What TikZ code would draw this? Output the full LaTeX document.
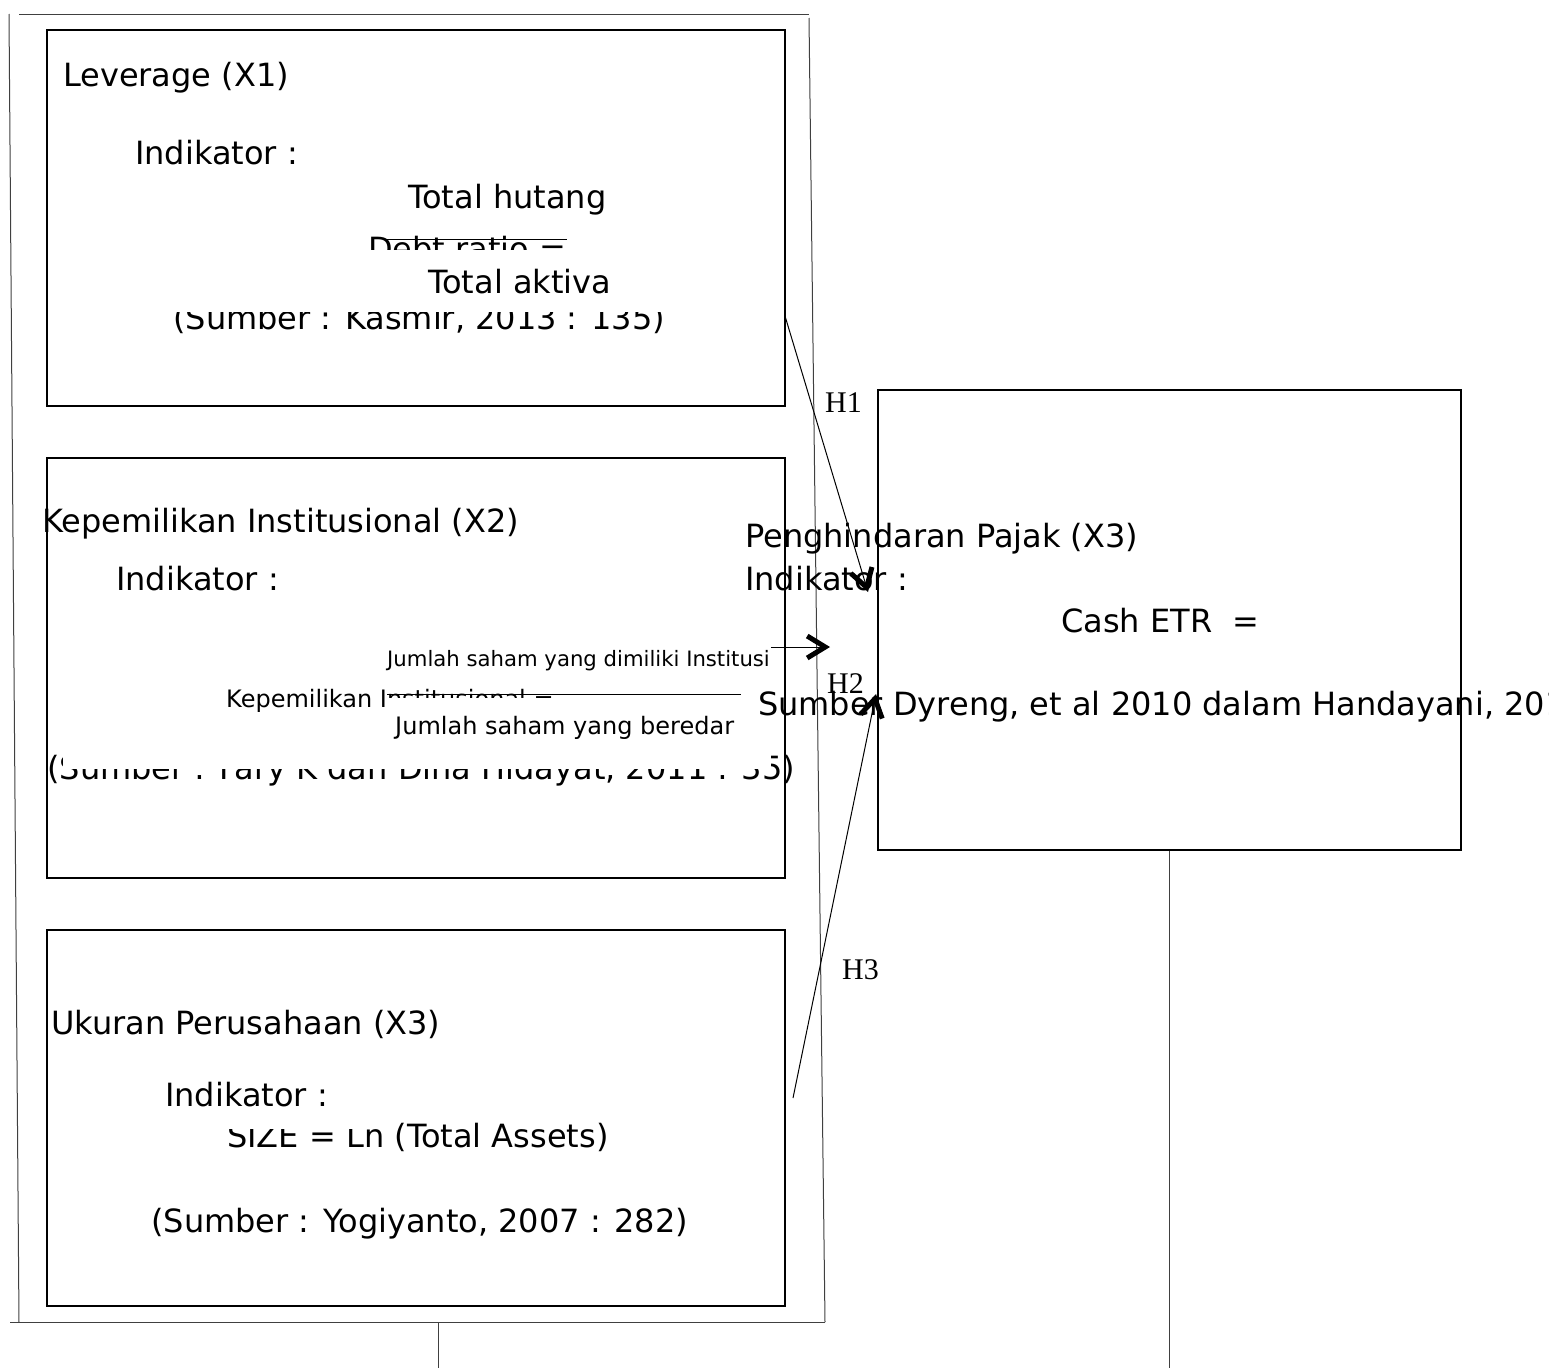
\documentclass[tikz,border=0pt]{standalone}
\usepackage{fontspec}
\setmainfont{DejaVu Sans}
\newfontfamily\hypfont{Liberation Serif}
\usetikzlibrary{arrows.meta}
\tikzset{
  box/.style={draw, line width=1.2pt, minimum width=738pt, inner sep=0pt},
  txt/.style={anchor=base west, inner sep=0pt, font=\fontsize{32}{38}\selectfont},
  midtxt/.style={anchor=base west, inner sep=0pt, font=\fontsize{24}{29}\selectfont},
  smalltxt/.style={anchor=base west, inner sep=0pt, font=\fontsize{21.2}{25}\selectfont},
  hyp/.style={anchor=base west, inner sep=0pt, font=\hypfont\fontsize{30}{36}\selectfont},
  link/.style={line width=1pt, -{Straight Barb[length=18pt,width=22pt,line width=5pt]}},
  frame/.style={line width=1pt, black!75}
}

\begin{document}
\begin{tikzpicture}[x=1pt,y=-1pt]
    \path[use as bounding box] (0,0) rectangle (1549,1368);
    \clip (0,0) rectangle (1549,1368);

    \draw[frame] (19,14) -- (809,14);
    \draw[frame] (9,14) -- (19,1322);
    \draw[frame] (809,18) -- (825,1322);
    \draw[frame] (10,1322) -- (825,1322);

    \node[box, minimum height=376pt] (x1) at (416,218) {};
    \node[box, minimum height=420pt] (x2) at (416,668) {};
    \node[box, minimum height=376pt] (x3) at (416,1118) {};
    \node[box, minimum width=583pt, minimum height=460pt] (y) at (1169.5,620) {};

    \coordinate (stub) at (438,1322);
    \coordinate (stubend) at (438,1368);
    \coordinate (yend) at (1169.5,1368);
    \draw[frame] (stub) -- (stubend);
    \draw[frame] (y.south) -- (yend);

    % leverage
    \node[txt] (lev) at (63,86) {Leverage (X1)};
    \node[txt] (ind1) at (135,164) {Indikator :};
    \node[txt] (num1) at (408,208) {Total hutang};
    \begin{scope}
      \clip (300,200) rectangle (620,249);
      \node[txt] (dr) at (368,260) {Debt ratio =};
    \end{scope}
    \draw[line width=1pt] (385,239) -- (567,239);
    \node[txt] (den1) at (428,293) {Total aktiva};
    \begin{scope}
      \clip (150,312) rectangle (700,345);
      \node[txt] (src1) at (173,329) {(Sumber : Kasmir, 2013 : 135)};
    \end{scope}

    % kepemilikan institusional
    \node[txt] (kep) at (42,532) {Kepemilikan Institusional (X2)};
    \node[txt] (ind2) at (116,590) {Indikator :};
    \node[smalltxt] (num2) at (387,666) {Jumlah saham yang dimiliki Institusi};
    \begin{scope}
      \clip (200,670) rectangle (387,730) (387,670) rectangle (760,697);
      \node[midtxt] (ki) at (226,707) {Kepemilikan Institusional =};
    \end{scope}
    \draw[line width=1pt] (387,694) -- (741,694);
    \node[midtxt] (den2) at (395,734) {Jumlah saham yang beredar};
    \begin{scope}
      \clip (40,745) rectangle (62,800) (62,769) rectangle (771,800) (771,745) rectangle (792,800);
      \node[txt] (src2) at (47,779) {(Sumber : Fary K dan Dina Hidayat, 2011 : 35)};
    \end{scope}

    % ukuran perusahaan
    \node[txt] (uk) at (51,1034) {Ukuran Perusahaan (X3)};
    \node[txt] (ind3) at (165,1106) {Indikator :};
    \begin{scope}
      \clip (200,1129) rectangle (395,1170) (395,1100) rectangle (640,1170);
      \node[txt] (size) at (227,1147) {SIZE = Ln (Total Assets)};
    \end{scope}
    \node[txt] (src3) at (151,1232) {(Sumber : Yogiyanto, 2007 : 282)};

    % penghindaran pajak
    \node[txt] (pp) at (745,547) {Penghindaran Pajak (X3)};
    \node[txt] (ind4) at (745,590) {Indikator :};
    \node[txt] (cetr) at (1061,632) {Cash ETR~ =};
    \node[txt] (src4) at (758,715) {Sumber Dyreng, et al 2010 dalam Handayani, 201};

    % hypotheses
    \coordinate (h1s) at (785,316);
    \coordinate (h1e) at (868,592);
    \coordinate (h2s) at (771,647);
    \coordinate (h2e) at (830,647);
    \coordinate (h3s) at (793,1098);
    \coordinate (h3e) at (876,694);
    \draw[link] (h1s) -- (h1e);
    \draw[link] (h2s) -- (h2e);
    \draw[link] (h3s) -- (h3e);
    \node[hyp] (lh1) at (825,412) {H1};
    \node[hyp] (lh2) at (827,693) {H2};
    \node[hyp] (lh3) at (842,979) {H3};
\end{tikzpicture}
\end{document}
